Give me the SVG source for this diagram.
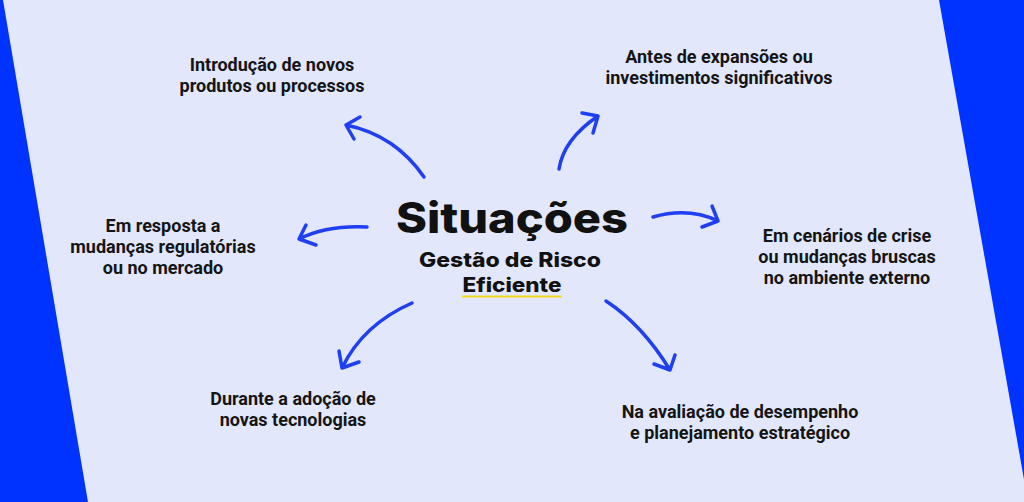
<svg xmlns="http://www.w3.org/2000/svg" width="1024" height="502" viewBox="0 0 1024 502">
<style>
.lbl{font-family:Roboto,"Liberation Sans",sans-serif;font-weight:700;font-size:18px;fill:#151515;text-anchor:middle}
.ctr{font-family:Inter,"Liberation Sans",sans-serif;font-weight:800;fill:#111;text-anchor:middle}
.arr{fill:none;stroke:#1f3ff2;stroke-width:3.5;stroke-linecap:round;stroke-linejoin:round}
</style>
<rect x="0" y="0" width="1024" height="502" fill="#0033ff"/>
<polygon points="3,0 939,0 1028,502 88,502" fill="#e2e7fc"/>
<g id="center">
<text class="ctr" x="512" y="233" font-size="42" textLength="232" lengthAdjust="spacingAndGlyphs">Situações</text>
<text class="ctr" x="510" y="267" font-size="20" textLength="182" lengthAdjust="spacingAndGlyphs">Gestão de Risco</text>
<text class="ctr" x="512" y="292" font-size="20" textLength="99" lengthAdjust="spacingAndGlyphs">Eficiente</text>
<line x1="462" y1="296.5" x2="562" y2="296.5" stroke="#f2d81a" stroke-width="2"/>
</g>
<g id="n1"><text class="lbl" x="272" y="71">Introdução de novos</text><text class="lbl" x="272" y="92">produtos ou processos</text></g>
<g id="n2"><text class="lbl" x="719" y="63">Antes de expansões ou</text><text class="lbl" x="719" y="84">investimentos significativos</text></g>
<g id="n3"><text class="lbl" x="163" y="232">Em resposta a</text><text class="lbl" x="163" y="253">mudanças regulatórias</text><text class="lbl" x="163" y="274">ou no mercado</text></g>
<g id="n4"><text class="lbl" x="847" y="242">Em cenários de crise</text><text class="lbl" x="847" y="263">ou mudanças bruscas</text><text class="lbl" x="847" y="284">no ambiente externo</text></g>
<g id="n5"><text class="lbl" x="293" y="405">Durante a adoção de</text><text class="lbl" x="293" y="426">novas tecnologias</text></g>
<g id="n6"><text class="lbl" x="740" y="418">Na avaliação de desempenho</text><text class="lbl" x="740" y="439">e planejamento estratégico</text></g>
<g id="connectors">
<path class="arr" d="M424,177 Q395,135 346,125 M360,117 L346,125 L354,139"/>
<path class="arr" d="M367,227 Q327,225 299,239 M306,225 L299,239 L316,245"/>
<path class="arr" d="M559,169 Q563.5,139.5 598,116 M582,113 L598,116 L593,133"/>
<path class="arr" d="M653,217 Q688.5,207 718,221 M712,206 L718,221 L702,227"/>
<path class="arr" d="M412,303 Q363,324.5 342,368 M339,351 L342,368 L359,362"/>
<path class="arr" d="M606,301 Q642,324.5 670,370 M675,355 L670,370 L654,364"/>
</g>
</svg>
